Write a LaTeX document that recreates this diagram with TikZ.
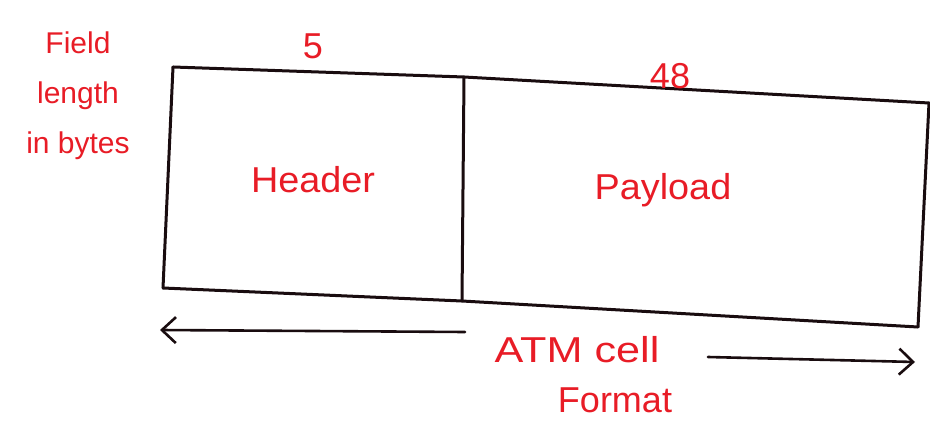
\documentclass[tikz,border=0pt]{standalone}
\usepackage{fontspec}
\setmainfont{Liberation Sans}
\usetikzlibrary{arrows.meta}
\definecolor{penred}{RGB}{232,28,38}
\definecolor{ink}{RGB}{25,12,15}
\tikzset{
  edge/.style={draw=ink, line width=3pt, line cap=round, line join=round},
  dimarrow/.style={draw=ink, line width=2.6pt, line cap=round, -{Straight Barb[length=14pt,width=26pt,line width=2.6pt]}},
  redtext/.style={text=penred, font=\fontsize{36}{40}\selectfont, inner sep=0pt},
  smallred/.style={text=penred, font=\fontsize{30}{50}\selectfont, inner sep=0pt, align=center},
}
\begin{document}
\begin{tikzpicture}[x=1pt,y=-1pt]
\useasboundingbox (0,0) rectangle (930,425);
% corners
\coordinate (tl) at (173,67);
\coordinate (bl) at (163,288);
\coordinate (tm) at (464,77);
\coordinate (bm) at (462,301);
\coordinate (tr) at (929,103);
\coordinate (br) at (918,327);
% cell outline
\draw[edge] (tl) -- (tm) -- (tr);
\draw[edge] (bl) -- (bm) -- (br);
\draw[edge] (tl) -- (bl);
\draw[edge] (tm) -- (bm);
\draw[edge] (tr) -- (br);
% arrows
\coordinate (la0) at (465,332);
\coordinate (la1) at (160,330);
\coordinate (ra0) at (708,357);
\coordinate (ra1) at (915,362);
\draw[dimarrow] (la0) -- (la1);
\draw[dimarrow] (ra0) -- (ra1);
% labels
\node[smallred] (fl) at (78,96) {Field\\length\\in bytes};
\node[redtext] (five) at (313,46) {5};
\node[redtext] (fe) at (670,76) {48};
\node[redtext, xscale=1.05] (hd) at (313,180) {Header};
\node[redtext, xscale=1.05] (pl) at (663,190) {Payload};
\node[redtext, xscale=1.2] (atm) at (577,350) {ATM cell};
\node[redtext] (fmt) at (615,400) {Format};
\end{tikzpicture}
\end{document}
